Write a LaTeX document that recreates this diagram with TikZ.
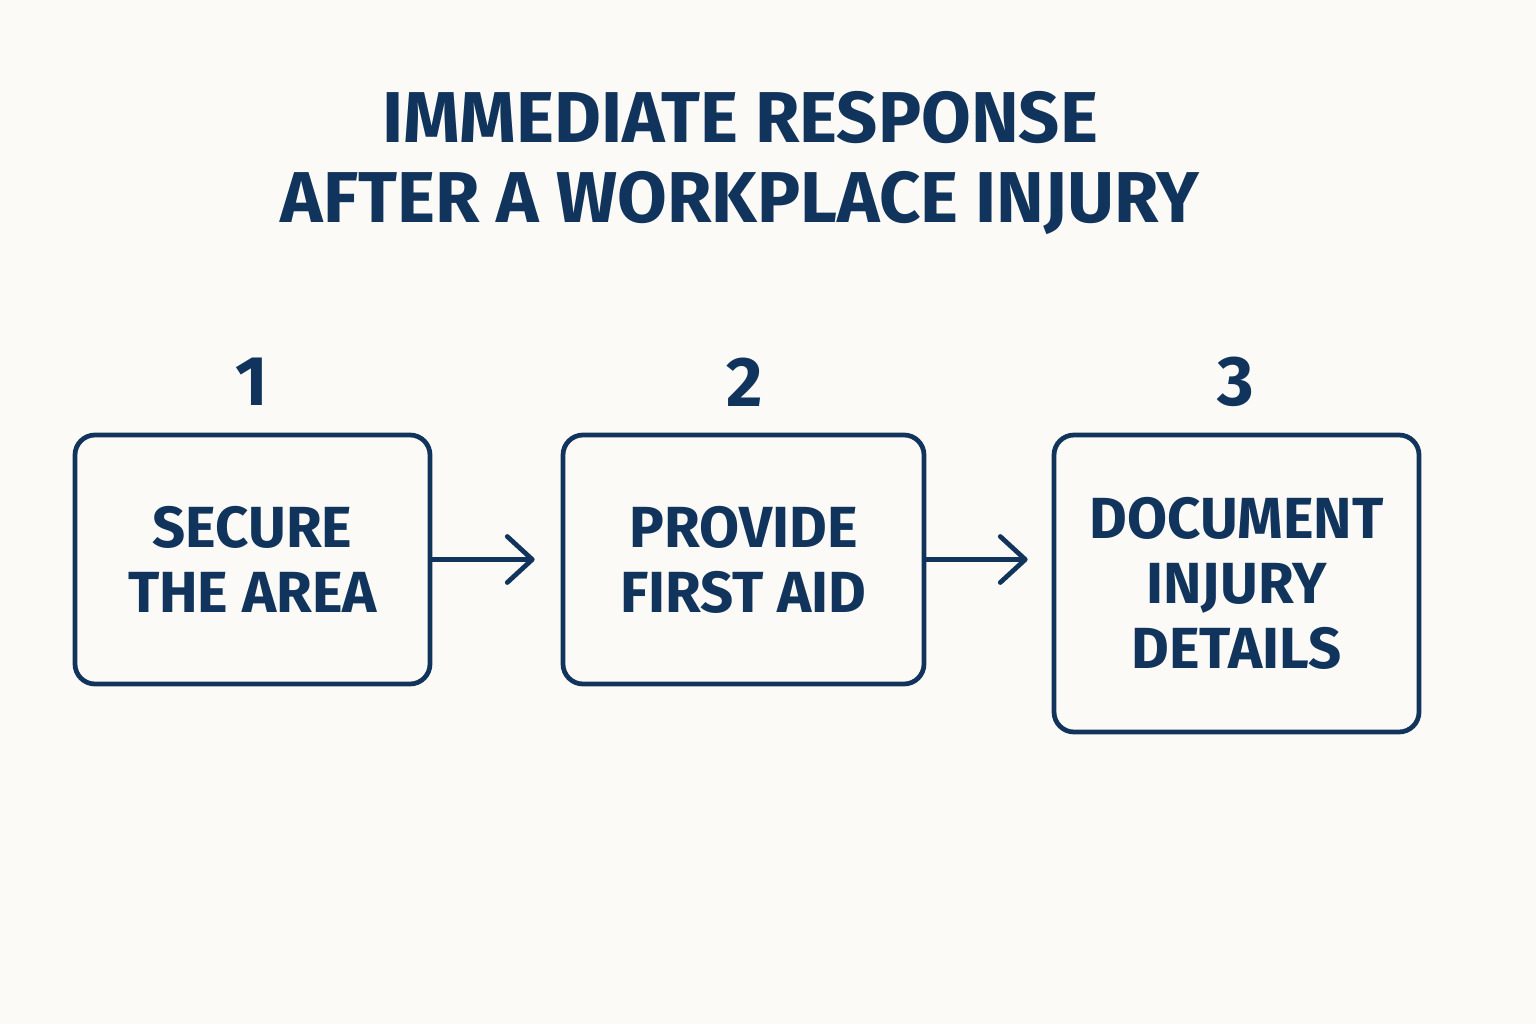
\documentclass[tikz,border=0pt]{standalone}
\usepackage{fontspec}
\setmainfont{Fira Sans}
\usepackage{tikz}
\usetikzlibrary{positioning}
\usetikzlibrary{arrows.meta}
\definecolor{navy}{RGB}{17,52,92}
\definecolor{paper}{RGB}{252,250,246}

\begin{document}
\begin{tikzpicture}[
    stepbox/.style={draw=navy, line width=1.35pt, rounded corners=0.2cm, text=navy,
        align=center, font=\fontsize{16.5}{18.5}\selectfont\bfseries},
    stepnum/.style={text=navy, font=\fontsize{20}{20}\selectfont\bfseries},
    flow/.style={draw=navy, line width=1.35pt,
        -{Straight Barb[length=0.25cm,width=0.46cm,line cap=round,line join=round]}}
    ]

\fill[paper] (0,0) rectangle (15.36,10.24);

\node[text=navy, align=center, font=\fontsize{20.5}{22.5}\selectfont\bfseries] (title) at (7.40,8.61)
{IMMEDIATE RESPONSE\\AFTER A WORKPLACE INJURY};

%boxes
\node[stepbox, minimum width=3.55cm, minimum height=2.49cm] (secure) at (2.525,4.645)
{SECURE\\THE AREA};
\node[stepbox, minimum width=3.61cm, minimum height=2.49cm] (aid) at (7.435,4.645)
{PROVIDE\\FIRST AID};
\node[stepbox, minimum width=3.65cm, minimum height=2.97cm] (document) at (12.365,4.405)
{DOCUMENT\\INJURY\\DETAILS};

\node[stepnum] (n1) at (2.52,6.42) {1};
\node[stepnum] (n2) at (7.45,6.42) {2};
\node[stepnum] (n3) at (12.36,6.42) {3};

%arrows
\draw[flow] (secure.east) -- ([xshift=-0.26cm]aid.west);
\draw[flow] (aid.east) -- ([xshift=-0.24cm]document.west |- aid.east);

\end{tikzpicture}
\end{document}
